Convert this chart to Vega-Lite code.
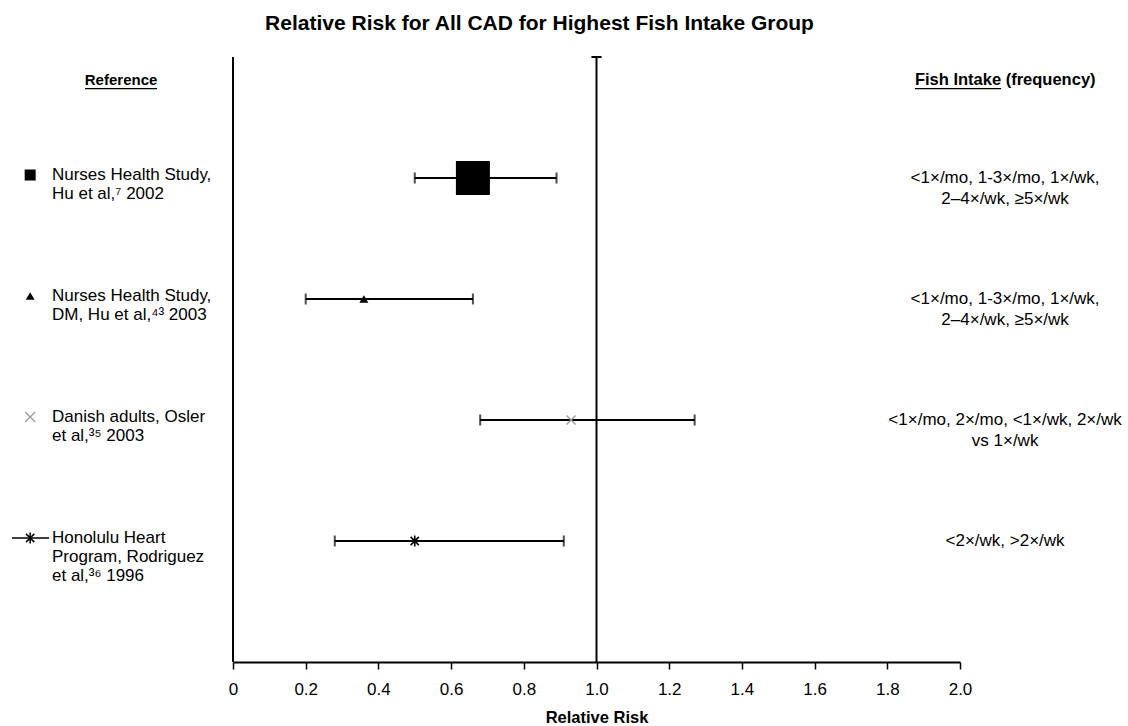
{
  "$schema": "https://vega.github.io/schema/vega-lite/v6.json",
  "autosize": {"type": "none"},
  "width": 727,
  "height": 605,
  "padding": {"left": 233, "top": 57, "right": 168, "bottom": 64},
  "background": "white",
  "config": {
    "view": {"stroke": null},
    "font": "Liberation Sans",
    "axisY": {"disable": true},
    "axisX": {
      "grid": false,
      "domainColor": "black",
      "domainWidth": 2,
      "tickColor": "black",
      "tickWidth": 1.5,
      "tickSize": 7,
      "labelFontSize": 17,
      "labelColor": "black",
      "labelFont": "Liberation Sans",
      "labelPadding": 12,
      "labelFlush": false,
      "titleFontSize": 16.5,
      "titleFontWeight": "bold",
      "titleColor": "black",
      "titleFont": "Liberation Sans",
      "titlePadding": 12
    }
  },
  "title": {
    "text": "Relative Risk for All CAD for Highest Fish Intake Group",
    "fontSize": 21,
    "fontWeight": "bold",
    "font": "Liberation Sans",
    "color": "black",
    "anchor": "middle",
    "dx": -57,
    "offset": 22
  },
  "datasets": {
    "studies": [
      {"row": 1, "study": "Nurses Health Study,\nHu et al,⁷ 2002", "rr": 0.66, "lo": 0.50, "hi": 0.89, "intake": "<1×/mo, 1-3×/mo, 1×/wk,\n2–4×/wk, ≥5×/wk", "marker": "square"},
      {"row": 2, "study": "Nurses Health Study,\nDM,  Hu et al,⁴³ 2003", "rr": 0.36, "lo": 0.20, "hi": 0.66, "intake": "<1×/mo, 1-3×/mo, 1×/wk,\n2–4×/wk, ≥5×/wk", "marker": "triangle"},
      {"row": 3, "study": "Danish adults, Osler\net al,³⁵ 2003", "rr": 0.93, "lo": 0.68, "hi": 1.27, "intake": "<1×/mo, 2×/mo, <1×/wk, 2×/wk\nvs 1×/wk", "marker": "cross"},
      {"row": 4, "study": "Honolulu Heart\nProgram, Rodriguez\net al,³⁶ 1996", "rr": 0.50, "lo": 0.28, "hi": 0.91, "intake": "<2×/wk, >2×/wk", "marker": "asterisk"}
    ]
  },
  "data": {"name": "studies"},
  "layer": [
    {
      "mark": {"type": "rule", "color": "black", "strokeWidth": 2},
      "encoding": {
        "x": {
          "field": "lo", "type": "quantitative",
          "scale": {"domain": [0, 2], "nice": false, "zero": false},
          "axis": {
            "title": "Relative Risk",
            "values": [0, 0.2, 0.4, 0.6, 0.8, 1.0, 1.2, 1.4, 1.6, 1.8, 2.0],
            "labelExpr": "datum.value == 0 ? '0' : format(datum.value, '.1f')"
          }
        },
        "x2": {"field": "hi"},
        "y": {"field": "row", "type": "quantitative", "scale": {"domain": [0, 5], "reverse": true, "nice": false, "zero": false}}
      }
    },
    {
      "mark": {"type": "tick", "orient": "vertical", "color": "black", "size": 11, "thickness": 2},
      "encoding": {
        "x": {"field": "lo", "type": "quantitative"},
        "y": {"field": "row", "type": "quantitative"}
      }
    },
    {
      "mark": {"type": "tick", "orient": "vertical", "color": "black", "size": 11, "thickness": 2},
      "encoding": {
        "x": {"field": "hi", "type": "quantitative"},
        "y": {"field": "row", "type": "quantitative"}
      }
    },
    {
      "data": {"values": [{}]},
      "mark": {"type": "rule", "color": "black", "strokeWidth": 2},
      "encoding": {
        "x": {"datum": 1, "type": "quantitative"},
        "y": {"datum": 0, "type": "quantitative"},
        "y2": {"datum": 5}
      }
    },
    {
      "data": {"values": [{}]},
      "mark": {"type": "rule", "color": "black", "strokeWidth": 2},
      "encoding": {
        "x": {"datum": 0.986, "type": "quantitative"},
        "x2": {"datum": 1.014},
        "y": {"datum": 0, "type": "quantitative"}
      }
    },
    {
      "data": {"values": [{}]},
      "mark": {"type": "rule", "color": "black", "strokeWidth": 2},
      "encoding": {
        "x": {"datum": 0, "type": "quantitative"},
        "y": {"datum": 0, "type": "quantitative"},
        "y2": {"datum": 5}
      }
    },
    {
      "transform": [{"filter": "datum.marker == 'square'"}],
      "mark": {"type": "point", "shape": "square", "filled": true, "color": "black", "size": 1156, "opacity": 1},
      "encoding": {
        "x": {"field": "rr", "type": "quantitative"},
        "y": {"field": "row", "type": "quantitative"}
      }
    },
    {
      "transform": [{"filter": "datum.marker == 'triangle'"}],
      "mark": {"type": "point", "shape": "triangle-up", "filled": true, "color": "black", "size": 80, "opacity": 1},
      "encoding": {
        "x": {"field": "rr", "type": "quantitative"},
        "y": {"field": "row", "type": "quantitative"}
      }
    },
    {
      "transform": [{"filter": "datum.marker == 'cross'"}],
      "mark": {"type": "point", "shape": "M-1,-1L1,1M-1,1L1,-1", "filled": false, "stroke": "#999999", "strokeWidth": 1.3, "size": 81, "opacity": 1},
      "encoding": {
        "x": {"field": "rr", "type": "quantitative"},
        "y": {"field": "row", "type": "quantitative"}
      }
    },
    {
      "transform": [{"filter": "datum.marker == 'asterisk'"}],
      "mark": {"type": "point", "shape": "M-0.75,-0.75L0.75,0.75M-0.75,0.75L0.75,-0.75M0,-1L0,1", "filled": false, "stroke": "black", "strokeWidth": 1.6, "size": 121, "opacity": 1},
      "encoding": {
        "x": {"field": "rr", "type": "quantitative"},
        "y": {"field": "row", "type": "quantitative"}
      }
    },
    {
      "transform": [{"filter": "datum.marker == 'square'"}],
      "mark": {"type": "point", "shape": "square", "filled": true, "color": "black", "size": 121, "opacity": 1, "yOffset": -3},
      "encoding": {
        "x": {"datum": -0.558, "type": "quantitative"},
        "y": {"field": "row", "type": "quantitative"}
      }
    },
    {
      "transform": [{"filter": "datum.marker == 'triangle'"}],
      "mark": {"type": "point", "shape": "triangle-up", "filled": true, "color": "black", "size": 80, "opacity": 1, "yOffset": -3},
      "encoding": {
        "x": {"datum": -0.558, "type": "quantitative"},
        "y": {"field": "row", "type": "quantitative"}
      }
    },
    {
      "transform": [{"filter": "datum.marker == 'cross'"}],
      "mark": {"type": "point", "shape": "M-1,-1L1,1M-1,1L1,-1", "filled": false, "stroke": "#999999", "strokeWidth": 1.2, "size": 100, "opacity": 1, "yOffset": -3},
      "encoding": {
        "x": {"datum": -0.558, "type": "quantitative"},
        "y": {"field": "row", "type": "quantitative"}
      }
    },
    {
      "transform": [{"filter": "datum.marker == 'asterisk'"}],
      "mark": {"type": "rule", "color": "black", "strokeWidth": 1.3, "yOffset": -3},
      "encoding": {
        "x": {"datum": -0.608, "type": "quantitative"},
        "x2": {"datum": -0.506},
        "y": {"field": "row", "type": "quantitative"}
      }
    },
    {
      "transform": [{"filter": "datum.marker == 'asterisk'"}],
      "mark": {"type": "point", "shape": "M-0.75,-0.75L0.75,0.75M-0.75,0.75L0.75,-0.75M0,-1L0,1", "filled": false, "stroke": "black", "strokeWidth": 1.5, "size": 121, "opacity": 1, "yOffset": -3},
      "encoding": {
        "x": {"datum": -0.558, "type": "quantitative"},
        "y": {"field": "row", "type": "quantitative"}
      }
    },
    {
      "mark": {"type": "text", "align": "left", "baseline": "top", "dy": -11, "fontSize": 17, "lineHeight": 19, "color": "black", "font": "Liberation Sans", "lineBreak": "\n"},
      "encoding": {
        "x": {"datum": -0.498, "type": "quantitative"},
        "y": {"field": "row", "type": "quantitative"},
        "text": {"field": "study"}
      }
    },
    {
      "mark": {"type": "text", "align": "center", "baseline": "middle", "fontSize": 17, "lineHeight": 21, "color": "black", "font": "Liberation Sans", "lineBreak": "\n"},
      "encoding": {
        "x": {"datum": 2.124, "type": "quantitative"},
        "y": {"field": "row", "type": "quantitative"},
        "text": {"field": "intake"}
      }
    },
    {
      "data": {"values": [{}]},
      "mark": {"type": "text", "align": "center", "baseline": "middle", "fontSize": 15, "fontWeight": "bold", "color": "black", "font": "Liberation Sans", "text": "Reference"},
      "encoding": {
        "x": {"datum": -0.308, "type": "quantitative"},
        "y": {"datum": 0.19, "type": "quantitative"}
      }
    },
    {
      "data": {"values": [{}]},
      "mark": {"type": "text", "align": "left", "baseline": "middle", "fontSize": 16.5, "fontWeight": "bold", "color": "black", "font": "Liberation Sans", "text": "Fish Intake (frequency)"},
      "encoding": {
        "x": {"datum": 1.876, "type": "quantitative"},
        "y": {"datum": 0.19, "type": "quantitative"}
      }
    },
    {
      "data": {"values": [{}]},
      "mark": {"type": "rule", "color": "black", "strokeWidth": 1.3},
      "encoding": {
        "x": {"datum": -0.407, "type": "quantitative"},
        "x2": {"datum": -0.209},
        "y": {"datum": 0.262, "type": "quantitative"}
      }
    },
    {
      "data": {"values": [{}]},
      "mark": {"type": "rule", "color": "black", "strokeWidth": 1.3},
      "encoding": {
        "x": {"datum": 1.876, "type": "quantitative"},
        "x2": {"datum": 2.113},
        "y": {"datum": 0.262, "type": "quantitative"}
      }
    }
  ]
}
